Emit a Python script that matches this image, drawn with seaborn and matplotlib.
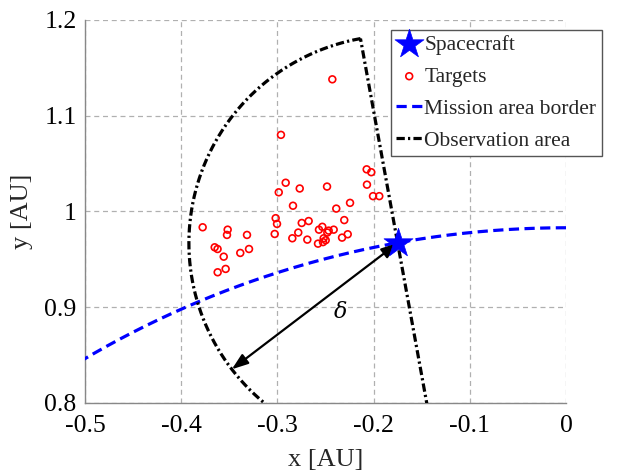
import numpy as np
import pandas as pd
import matplotlib
matplotlib.use("Agg")
import matplotlib.pyplot as plt
import seaborn as sns
from matplotlib.ticker import MultipleLocator

# ---- data ----
spacecraft_x = [-0.175]
spacecraft_y = [0.967]
border_radius = 0.983          # mission area border (circle about the Sun)
delta = 0.217                  # observation radius

target_x = [-0.2429, -0.2963, -0.2072, -0.2024, -0.2914, -0.2768, -0.2484, -0.2069,
            -0.2986, -0.2006, -0.1941, -0.2245, -0.2838, -0.2388, -0.3777, -0.3517,
            -0.3524, -0.3316, -0.3018, -0.3004, -0.2747, -0.2675, -0.2305, -0.3028,
            -0.2783, -0.2845, -0.2689, -0.2568, -0.2533, -0.2467, -0.2415, -0.2481,
            -0.2519, -0.2498, -0.2526, -0.2578, -0.2328, -0.2269, -0.3652, -0.3622,
            -0.3558, -0.3386, -0.3295, -0.3621, -0.3538]
target_y = [1.138, 1.080, 1.044, 1.041, 1.030, 1.024, 1.026, 1.028,
            1.020, 1.016, 1.016, 1.009, 1.006, 1.003, 0.9835, 0.981,
            0.9755, 0.9755, 0.993, 0.987, 0.988, 0.990, 0.991, 0.9765,
            0.978, 0.972, 0.9706, 0.981, 0.984, 0.980, 0.981, 0.978,
            0.972, 0.970, 0.968, 0.9664, 0.9727, 0.9762, 0.9626, 0.9608,
            0.9528, 0.9567, 0.9608, 0.9365, 0.940]

x_ticks = [-0.5, -0.4, -0.3, -0.2, -0.1, 0]
x_ticklabels = ["-0.5", "-0.4", "-0.3", "-0.2", "-0.1", "0"]
y_ticks = [0.8, 0.9, 1.0, 1.1, 1.2]
y_ticklabels = ["0.8", "0.9", "1", "1.1", "1.2"]
arrow_angle_deg = 217.4
delta_label_pos = (-0.235, 0.894)

# ---- geometry ----
sx, sy = spacecraft_x[0], spacecraft_y[0]
phi = np.arctan2(sy, sx)  # radial direction of spacecraft
th = np.linspace(np.pi / 2, np.deg2rad(125), 200)
border_df = pd.DataFrame({"x": border_radius * np.cos(th), "y": border_radius * np.sin(th)})

a = np.linspace(phi, phi + np.pi, 300)
obs_x = np.concatenate([sx + delta * np.cos(a), [sx + delta * np.cos(phi)]])
obs_y = np.concatenate([sy + delta * np.sin(a), [sy + delta * np.sin(phi)]])
obs_df = pd.DataFrame({"x": obs_x, "y": obs_y})

targets_df = pd.DataFrame({"x": target_x, "y": target_y})
sc_df = pd.DataFrame({"x": spacecraft_x, "y": spacecraft_y})

# ---- plot ----
sns.set_style("white")
plt.rcParams["font.family"] = ["Liberation Serif", "DejaVu Serif"]
plt.rcParams["mathtext.fontset"] = "dejavuserif"

fig = plt.figure(figsize=(6.25, 4.75), dpi=100)
ax = fig.add_axes([0.136, 0.1516, 0.7696, 0.8064])

sns.lineplot(data=border_df, x="x", y="y", sort=False, estimator=None, ax=ax,
             color="#0000ff", lw=2.3, linestyle=(0, (3.2, 1.7)),
             label="Mission area border", zorder=3)
sns.lineplot(data=obs_df, x="x", y="y", sort=False, estimator=None, ax=ax,
             color="black", lw=2.3, linestyle=(0, (2.6, 1.0, 0.7, 1.0)),
             label="Observation area", zorder=3)
sns.scatterplot(data=targets_df, x="x", y="y", ax=ax, marker="o", s=24,
                facecolors="none", edgecolor="red", linewidth=1.2, label="Targets", zorder=4)
sns.scatterplot(data=sc_df, x="x", y="y", ax=ax, marker="*", s=480, color="#0000ff",
                edgecolor="#0000ff", linewidth=0.5, label="Spacecraft", zorder=5)

ang = np.deg2rad(arrow_angle_deg)
ax.annotate("", xy=(sx + delta * np.cos(ang), sy + delta * np.sin(ang)), xytext=(sx, sy),
            arrowprops=dict(arrowstyle="<|-|>,head_length=0.7,head_width=0.25",
                            color="black", lw=1.6,
                            mutation_scale=14, shrinkA=0, shrinkB=0), zorder=4)
ax.text(delta_label_pos[0], delta_label_pos[1], r"$\delta$", fontsize=16,
        ha="center", va="center", color="black")

ax.set_xlim(-0.5, 0)
ax.set_ylim(0.8, 1.2)
ax.set_xticks(x_ticks)
ax.set_xticklabels(x_ticklabels)
ax.set_yticks(y_ticks)
ax.set_yticklabels(y_ticklabels)
ax.xaxis.set_minor_locator(MultipleLocator(0.02))
ax.yaxis.set_minor_locator(MultipleLocator(0.02))
ax.tick_params(which="both", direction="in", colors="#777777", labelcolor="black",
               labelsize=18.5)
ax.tick_params(axis="x", which="major", length=0, pad=9)
ax.tick_params(axis="y", which="major", length=0, pad=6)
ax.tick_params(which="minor", length=3)
ax.grid(True, which="major", linestyle=(0, (4, 3)), color="#b0b0b0", lw=0.9)
for s in ["top", "right"]:
    ax.spines[s].set_visible(False)
for s in ["left", "bottom"]:
    ax.spines[s].set_color("#888888")
    ax.spines[s].set_linewidth(1.0)
ax.set_xlabel("x [AU]", fontsize=19, labelpad=8)
ax.set_ylabel("y [AU]", fontsize=19, labelpad=8)

h, l = ax.get_legend_handles_labels()
order = ["Spacecraft", "Targets", "Mission area border", "Observation area"]
hd = dict(zip(l, h))
leg = ax.legend([hd[k] for k in order], order, loc="upper left",
                bbox_to_anchor=(0.636, 0.975), fontsize=15.5, frameon=True,
                fancybox=False, edgecolor="#555555", framealpha=1,
                handlelength=1.2, handletextpad=0.1, borderpad=0.25,
                labelspacing=0.55, borderaxespad=0)
leg.get_frame().set_linewidth(1.0)
leg.set_zorder(10)

fig.savefig("out.png", dpi=100)
